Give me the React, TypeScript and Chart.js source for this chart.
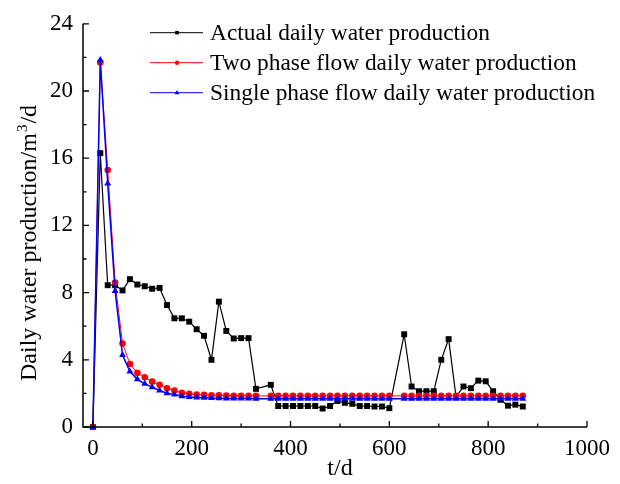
import React, { useEffect, useRef } from 'react';
import { Chart, registerables } from 'chart.js';

Chart.register(...registerables);

const days = [
  0, 15, 30, 45, 60, 75, 90, 105, 120, 135, 150, 165, 180, 195, 210, 225, 240, 255, 270, 285, 300, 315, 330,
  360, 375, 390, 405, 420, 435, 450, 465, 480, 495, 510, 525, 540, 555, 570, 585, 600,
  630, 645, 660, 675, 690, 705, 720, 735, 750, 765, 780, 795, 810, 825, 840, 855, 870,
];
const actual = [
  0, 16.3, 8.44, 8.44, 8.13, 8.8, 8.48, 8.38, 8.23, 8.28, 7.26, 6.47, 6.47, 6.27, 5.82, 5.43, 4.0, 7.46, 5.72, 5.27, 5.29, 5.29, 2.27,
  2.51, 1.25, 1.25, 1.25, 1.25, 1.25, 1.25, 1.1, 1.25, 1.55, 1.44, 1.38, 1.25, 1.25, 1.22, 1.22, 1.12,
  5.52, 2.41, 2.13, 2.13, 2.13, 4.0, 5.23, 1.78, 2.41, 2.31, 2.76, 2.72, 2.13, 1.62, 1.27, 1.33, 1.22,
];
const twoPhase = [
  0, 21.7, 15.3, 8.6, 4.97, 3.75, 3.22, 2.96, 2.7, 2.51, 2.31, 2.17, 2.03, 1.98, 1.93, 1.91, 1.89, 1.88, 1.87, 1.86, 1.86, 1.85, 1.85,
  1.85, 1.85, 1.85, 1.85, 1.85, 1.85, 1.85, 1.85, 1.85, 1.85, 1.85, 1.85, 1.85, 1.85, 1.85, 1.85, 1.85,
  1.85, 1.85, 1.85, 1.85, 1.85, 1.85, 1.85, 1.85, 1.85, 1.85, 1.85, 1.85, 1.85, 1.85, 1.85, 1.85, 1.85,
];
const singlePhase = [
  0, 21.85, 14.5, 8.09, 4.28, 3.3, 2.84, 2.57, 2.37, 2.17, 2.01, 1.93, 1.83, 1.78, 1.76, 1.74, 1.72, 1.71, 1.7, 1.7, 1.69, 1.69, 1.68,
  1.68, 1.68, 1.68, 1.68, 1.68, 1.68, 1.68, 1.68, 1.68, 1.68, 1.68, 1.68, 1.68, 1.68, 1.68, 1.68, 1.68,
  1.68, 1.68, 1.68, 1.68, 1.68, 1.68, 1.68, 1.68, 1.68, 1.68, 1.68, 1.68, 1.68, 1.68, 1.68, 1.68, 1.68,
];

const xMajor = [0, 200, 400, 600, 800, 1000];
const xMinor = [100, 300, 500, 700, 900];
const yMajor = [0, 4, 8, 12, 16, 20, 24];
const yMinor = [2, 6, 10, 14, 18, 22];

const legendLabels = [
  'Actual daily water production',
  'Two phase flow daily water production',
  'Single phase flow daily water production',
];
const seriesColors = ['#000000', '#ff0000', '#0000ff'];
const seriesStyles = ['rect', 'circle', 'triangle'];
const xTitle = 't/d';
const yTitleParts = ['Daily water production/m', '3', '/d'];

const FONT = '"Liberation Serif", "Times New Roman", serif';

const decorPlugin = {
  id: 'decor',
  afterDraw(chart: any) {
    const { ctx, chartArea, scales } = chart;
    const xs = scales.x;
    const ys = scales.y;
    const left = chartArea.left;
    const bottom = ys.getPixelForValue(0);
    const top = ys.getPixelForValue(24);
    const right = xs.getPixelForValue(1000);
    ctx.save();
    ctx.strokeStyle = '#000';
    ctx.lineWidth = 1.5;
    ctx.beginPath();
    ctx.moveTo(left, top);
    ctx.lineTo(left, bottom);
    ctx.lineTo(right, bottom);
    ctx.stroke();
    ctx.lineWidth = 1.3;
    ctx.beginPath();
    yMajor.forEach((v) => {
      const p = ys.getPixelForValue(v);
      ctx.moveTo(left, p);
      ctx.lineTo(left + 6, p);
    });
    yMinor.forEach((v) => {
      const p = ys.getPixelForValue(v);
      ctx.moveTo(left, p);
      ctx.lineTo(left + 3.5, p);
    });
    xMajor.forEach((v) => {
      const p = xs.getPixelForValue(v);
      ctx.moveTo(p, bottom);
      ctx.lineTo(p, bottom - 6);
    });
    xMinor.forEach((v) => {
      const p = xs.getPixelForValue(v);
      ctx.moveTo(p, bottom);
      ctx.lineTo(p, bottom - 3.5);
    });
    ctx.stroke();

    // axis titles
    ctx.fillStyle = '#000';
    ctx.font = `24px ${FONT}`;
    ctx.textAlign = 'center';
    ctx.textBaseline = 'alphabetic';
    ctx.fillText(xTitle, 340, 475);

    ctx.save();
    ctx.translate(36, 381);
    ctx.rotate(-Math.PI / 2);
    ctx.textAlign = 'left';
    ctx.font = `24px ${FONT}`;
    let cx = 0;
    ctx.fillText(yTitleParts[0], cx, 0);
    cx += ctx.measureText(yTitleParts[0]).width;
    ctx.font = `15px ${FONT}`;
    ctx.fillText(yTitleParts[1], cx + 1, -9);
    cx += ctx.measureText(yTitleParts[1]).width + 2;
    ctx.font = `24px ${FONT}`;
    ctx.fillText(yTitleParts[2], cx, 0);
    ctx.restore();

    // legend
    const rows = [32.7, 62.7, 92.7];
    legendLabels.forEach((label, i) => {
      const y = rows[i];
      ctx.strokeStyle = seriesColors[i];
      ctx.fillStyle = seriesColors[i];
      ctx.lineWidth = 1;
      ctx.beginPath();
      ctx.moveTo(150, y);
      ctx.lineTo(203, y);
      ctx.stroke();
      const mx = 177;
      ctx.beginPath();
      if (seriesStyles[i] === 'rect') {
        ctx.rect(mx - 1.8, y - 1.8, 3.6, 3.6);
      } else if (seriesStyles[i] === 'circle') {
        ctx.arc(mx, y, 2.2, 0, Math.PI * 2);
      } else {
        ctx.moveTo(mx, y - 2.6);
        ctx.lineTo(mx + 2.4, y + 1.6);
        ctx.lineTo(mx - 2.4, y + 1.6);
        ctx.closePath();
      }
      ctx.fill();
      ctx.fillStyle = '#000';
      ctx.font = `23.4px ${FONT}`;
      ctx.textAlign = 'left';
      ctx.textBaseline = 'alphabetic';
      ctx.fillText(label, 210, y + 7.5);
    });
    ctx.restore();
  },
};

export default function App() {
  const canvasRef = useRef<HTMLCanvasElement | null>(null);

  useEffect(() => {
    const canvas = canvasRef.current;
    if (!canvas) return;
    const mk = (vals: number[]) => days.map((d, i) => ({ x: d, y: vals[i] }));
    const chart = new Chart(canvas, {
      type: 'line',
      data: {
        datasets: [
          {
            label: legendLabels[0],
            data: mk(actual),
            borderColor: seriesColors[0],
            backgroundColor: seriesColors[0],
            borderWidth: 1.2,
            pointStyle: 'rect',
            pointRadius: 4.2,
            pointBorderWidth: 0,
            pointBackgroundColor: seriesColors[0],
            clip: false,
            order: 3,
          },
          {
            label: legendLabels[1],
            data: mk(twoPhase),
            borderColor: seriesColors[1],
            backgroundColor: seriesColors[1],
            borderWidth: 1,
            pointStyle: 'circle',
            pointRadius: 3.3,
            pointBorderWidth: 0,
            pointBackgroundColor: seriesColors[1],
            clip: false,
            order: 2,
          },
          {
            label: legendLabels[2],
            data: mk(singlePhase),
            borderColor: seriesColors[2],
            backgroundColor: seriesColors[2],
            borderWidth: 1.5,
            pointStyle: 'triangle',
            pointRadius: 4,
            pointBorderWidth: 0,
            pointBackgroundColor: seriesColors[2],
            clip: false,
            order: 1,
          },
        ],
      } as any,
      options: {
        animation: false,
        responsive: false,
        devicePixelRatio: 1,
        layout: { padding: { left: 0, right: 33, top: 21, bottom: 0 } },
        plugins: { legend: { display: false }, tooltip: { enabled: false } },
        scales: {
          x: {
            type: 'linear',
            min: -20,
            max: 1000,
            afterBuildTicks: (s: any) => {
              s.ticks = xMajor.map((v) => ({ value: v }));
            },
            afterFit: (s: any) => {
              s.height = 57;
            },
            ticks: {
              font: { family: FONT, size: 23 },
              color: '#000',
              padding: 8,
              maxRotation: 0,
              autoSkip: false,
              callback: (v: any) => String(v),
            },
            grid: { display: false, drawTicks: false },
            border: { display: false },
          },
          y: {
            type: 'linear',
            min: 0,
            max: 24,
            afterBuildTicks: (s: any) => {
              s.ticks = yMajor.map((v) => ({ value: v }));
            },
            afterFit: (s: any) => {
              s.width = 83;
            },
            ticks: {
              font: { family: FONT, size: 23 },
              color: '#000',
              padding: 10,
              autoSkip: false,
              callback: (v: any) => String(v),
            },
            grid: { display: false, drawTicks: false },
            border: { display: false },
          },
        },
      } as any,
      plugins: [decorPlugin],
    });
    return () => chart.destroy();
  }, []);

  return (
    <div style={{ position: 'absolute', left: 0, top: 0, width: 620, height: 484, background: '#fff' }}>
      <canvas ref={canvasRef} width={620} height={484} />
    </div>
  );
}
